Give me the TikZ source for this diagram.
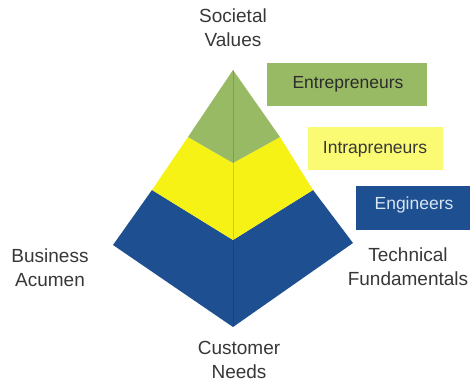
\documentclass[tikz,border=0pt]{standalone}
\usepackage{fontspec}
\setmainfont{Liberation Sans}
\usepackage{tikz}
\usetikzlibrary{arrows,positioning}
\usetikzlibrary{calc}

\definecolor{topgreen}{RGB}{153,186,100}
\definecolor{midyellow}{RGB}{246,242,22}
\definecolor{paleyellow}{RGB}{250,250,115}
\definecolor{basblue}{RGB}{30,80,145}
\definecolor{labelgray}{RGB}{55,55,55}
\definecolor{engtext}{RGB}{215,228,242}

\tikzset{
  corner/.style={align=center,text=labelgray,font=\fontsize{19}{24}\selectfont},
  rolebox/.style={font=\fontsize{17.5}{20}\selectfont}
}

\begin{document}
\begin{tikzpicture}[x=1pt,y=-1pt]
\useasboundingbox (0,0) rectangle (472,383);
% pyramid corners
\coordinate (apex) at (233,70);
\coordinate (left) at (113,245);
\coordinate (right) at (353,243);
\coordinate (bottom) at (233,327);
% band boundaries
\coordinate (gl) at (188,137);
\coordinate (gm) at (233,163);
\coordinate (gr) at (280,137);
\coordinate (yl) at (152,190);
\coordinate (ym) at (233,240);
\coordinate (yr) at (313,190);
% bands
\fill[basblue] (left) -- (yl) -- (ym) -- (yr) -- (right) -- (bottom) -- cycle;
\fill[midyellow] (yl) -- (gl) -- (gm) -- (gr) -- (yr) -- (ym) -- cycle;
\fill[topgreen] (apex) -- (gl) -- (gm) -- (gr) -- cycle;
\draw[black,opacity=.15,line width=.8pt] (apex) -- (bottom);
% role boxes
\fill[topgreen] (267,63) rectangle (427,106);
\fill[paleyellow] (308,127) rectangle (443,170);
\fill[basblue] (356,186) rectangle (470,230);
\node[rolebox,text=labelgray!80!black] (ent) at (348,84) {Entrepreneurs};
\node[rolebox,text=labelgray] (intra) at (375,149) {Intrapreneurs};
\node[rolebox,text=engtext] (eng) at (414,205) {Engineers};
% corner labels
\node[corner] (soc) at (233,28) {Societal\\Values};
\node[corner] (bus) at (50,268) {Business\\Acumen};
\node[corner] (tech) at (408,267) {Technical\\Fundamentals};
\node[corner] (cust) at (239,360) {Customer\\Needs};
\end{tikzpicture}
\end{document}
